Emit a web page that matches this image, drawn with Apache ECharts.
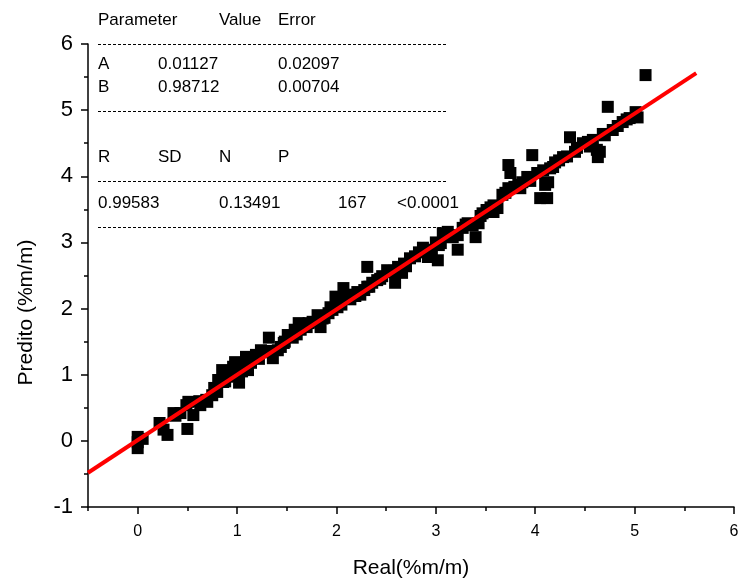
<!DOCTYPE html>
<html>
<head>
<meta charset="utf-8">
<script src="https://cdn.jsdelivr.net/npm/echarts@6/dist/echarts.min.js"></script>
<style>
html,body{margin:0;padding:0;background:#fff;}
#chart{width:741px;height:583px;}
</style>
</head>
<body>
<div id="chart"></div>
<script>
// Measured (Real, Predito) pairs
const realValues = [
0,0,0,0.22,0.26,0.30,0.36,0.43,0.51,0.49,0.56,0.50,0.69,0.70,0.75,0.80,0.81,0.85,0.90,0.86,
0.96,0.98,1.02,1.01,1.09,1.11,1.07,0.93,0.77,0.63,
1.29,1.32,1.36,1.41,1.44,1.51,1.56,1.62,1.64,1.67,1.72,1.76,1.81,1.84,1.88,1.92,1.94,1.99,2.01,1.19,1.24,1.14,1.47,1.58,
2.02,2.07,2.11,2.16,2.21,2.24,2.28,2.31,2.31,2.36,2.41,2.46,2.51,2.59,2.62,2.66,2.70,2.74,2.79,2.83,2.87,2.92,2.96,3.02,3.03,3.05,3.07,3.12,2.55,2.19,
3.17,3.22,3.22,3.27,3.32,3.37,3.40,3.43,3.47,3.51,3.55,3.62,3.67,3.70,3.73,3.73,3.75,3.79,3.83,3.87,3.92,3.97,4.02,4.05,4.12,4.13,4.08,4.15,4.20,4.28,4.10,3.58,
4.35,4.42,4.48,4.53,4.58,4.62,4.63,4.65,4.70,4.73,4.78,4.83,4.88,4.95,5.01,5.03,5.11,4.55,4.24,
0.05,0.38,0.62,0.88,0.97,1.05,1.22,1.33,1.48,1.60,1.70,1.86,1.96,2.05,2.14,2.33,2.44,2.58,2.68,2.90,3.00,3.10,3.30,3.45,3.58,3.85,3.95,4.18,4.32,4.40,4.68,4.92
];
const predValues = [
0.06,-0.11,-0.02,0.27,0.17,0.09,0.42,0.42,0.59,0.54,0.39,0.18,0.62,0.59,0.69,0.74,0.92,1.07,0.97,0.89,
1.12,1.19,0.88,1.00,1.27,1.07,1.15,1.04,0.80,0.54,
1.34,1.56,1.25,1.37,1.42,1.60,1.56,1.78,1.68,1.75,1.78,1.80,1.90,1.72,1.86,1.93,2.02,2.18,2.02,1.30,1.37,1.18,1.48,1.68,
2.13,2.31,2.16,2.21,2.25,2.21,2.28,2.33,2.63,2.39,2.43,2.49,2.58,2.39,2.63,2.54,2.64,2.76,2.79,2.85,2.92,2.78,2.89,2.73,2.96,2.99,3.14,3.16,2.55,2.19,
3.08,2.89,3.11,3.22,3.29,3.26,3.08,3.29,3.44,3.49,3.53,3.52,3.72,3.75,3.82,4.17,4.05,3.84,3.87,3.91,3.99,4.32,4.05,3.67,3.67,3.91,4.09,4.12,4.21,4.29,3.87,3.46,
4.59,4.43,4.50,4.52,4.55,4.40,4.29,4.37,4.62,5.05,4.70,4.76,4.82,4.88,4.97,4.89,5.53,4.45,4.24,
0.03,0.38,0.60,0.90,0.98,1.05,1.24,1.36,1.50,1.61,1.72,1.85,1.98,2.06,2.14,2.33,2.45,2.57,2.68,2.88,3.00,3.08,3.27,3.40,3.56,3.82,3.93,4.14,4.30,4.37,4.64,4.86
];
// Linear fit parameters (from the table)
const fitA = 0.01127;
const fitB = 0.98712;
const fitRange = [-0.5, 5.62];
const xMajorTicks = [0,1,2,3,4,5,6];
const xMinorTicks = [-0.5,0.5,1.5,2.5,3.5,4.5,5.5];
const tableHeader1 = ['Parameter','Value','Error'];
const tableRows1 = [['A','0.01127','0.02097'],['B','0.98712','0.00704']];
const tableHeader2 = ['R','SD','N','P'];
const tableRow2 = ['0.99583','0.13491','167','<0.0001'];

const scatterData = realValues.map((x,i)=>[x,predValues[i]]);
const fitData = fitRange.map(x=>[x, fitA + fitB*x]);

const FONT = 'Liberation Sans, Arial, Helvetica, sans-serif';
const chart = echarts.init(document.getElementById('chart'));

function txt(x,y,s){return {type:'text',x:x,y:y,style:{text:s,fill:'#000',font:'17px '+FONT,textVerticalAlign:'middle'}};}
function dash(y){return {type:'line',shape:{x1:98,y1:y,x2:446,y2:y},style:{stroke:'#000',lineWidth:1,lineDash:[3,2]}};}
const g = [];
const c1 = [98,219,278];
tableHeader1.forEach((s,i)=>g.push(txt(c1[i],20,s)));
g.push(dash(44.5));
const c2 = [98,158,278];
tableRows1.forEach((row,r)=>row.forEach((s,i)=>g.push(txt(c2[i],64+r*23,s))));
g.push(dash(111.5));
const c3 = [98,158,219,278];
tableHeader2.forEach((s,i)=>g.push(txt(c3[i],157,s)));
g.push(dash(181.5));
const c4 = [98,219,338,397];
tableRow2.forEach((s,i)=>g.push(txt(c4[i],203,s)));
g.push(dash(227.5));

chart.setOption({
  animation:false,
  backgroundColor:'#fff',
  grid:{left:88,right:7,top:44,bottom:76,containLabel:false,outerBoundsMode:'none'},
  graphic:g,
  xAxis:[{
    type:'value',min:-0.5,max:6,
    name:'Real(%m/m)',nameLocation:'middle',nameGap:51,
    nameTextStyle:{fontSize:21,color:'#000',fontFamily:FONT},
    axisLine:{show:true,onZero:false,lineStyle:{color:'#000',width:1.5}},
    axisTick:{show:true,length:7,customValues:xMajorTicks,lineStyle:{color:'#000',width:1.5}},
    axisLabel:{show:true,customValues:xMajorTicks,fontSize:16,color:'#000',fontFamily:FONT,margin:17},
    splitLine:{show:false}
  },{
    type:'value',min:-0.5,max:6,position:'bottom',
    axisLine:{show:false,onZero:false},
    axisTick:{show:true,length:4,customValues:xMinorTicks,lineStyle:{color:'#000',width:1.5}},
    axisLabel:{show:false},
    splitLine:{show:false}
  }],
  yAxis:{
    type:'value',min:-1,max:6,interval:1,
    name:'Predito (%m/m)',nameLocation:'middle',nameGap:51,nameRotate:90,
    nameTextStyle:{fontSize:21,color:'#000',fontFamily:FONT,padding:[0,74,0,0]},
    axisLine:{show:true,onZero:false,lineStyle:{color:'#000',width:1.5}},
    axisTick:{show:true,length:7,lineStyle:{color:'#000',width:1.5}},
    minorTick:{show:true,splitNumber:2,length:4,lineStyle:{color:'#000',width:1.5}},
    axisLabel:{fontSize:22,color:'#000',fontFamily:FONT,margin:15},
    splitLine:{show:false},minorSplitLine:{show:false}
  },
  series:[{
    type:'scatter',data:scatterData,symbol:'rect',symbolSize:12,
    itemStyle:{color:'#000',opacity:1},z:2
  },{
    type:'line',data:fitData,showSymbol:false,symbol:'none',
    lineStyle:{color:'#ff0000',width:4},z:3
  }]
});
</script>
</body>
</html>
